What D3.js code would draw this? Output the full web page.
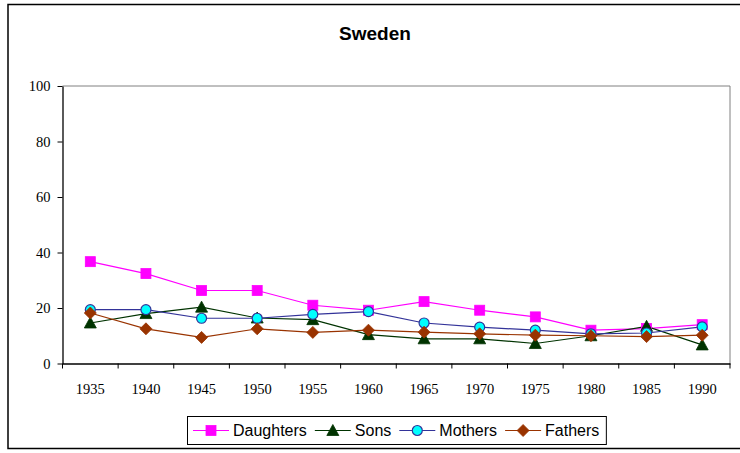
<!DOCTYPE html>
<html>
<head>
<meta charset="utf-8">
<script src="https://cdn.jsdelivr.net/npm/d3@7"></script>
<style>
  body { margin: 0; background: #fff; }
  svg { display: block; }
</style>
</head>
<body>
<div id="chart"></div>
<script>
// data
let years = ["1935", "1940", "1945", "1950", "1955", "1960", "1965", "1970", "1975", "1980", "1985", "1990"];
let daughters = [36.7, 32.4, 26.3, 26.3, 21, 19.2, 22.3, 19.2, 16.8, 12, 12.6, 14];
let sons = [14.6, 18, 20.3, 16.4, 15.8, 10.4, 8.9, 8.9, 7.2, 10, 13.4, 6.7];
let mothers = [19.4, 19.4, 16.3, 16.3, 17.7, 18.7, 14.6, 13.1, 12, 10.7, 11, 13.2];
let fathers = [18.2, 12.5, 9.4, 12.5, 11.2, 12, 11.3, 10.7, 10.2, 10, 9.7, 10.2];
let yTicks = [0, 20, 40, 60, 80, 100];

let series = [
    {name: "Daughters", values: daughters, line: "#ff00ff", fill: "#ff00ff", stroke: "#ff00ff", shape: "square"},
    {name: "Sons", values: sons, line: "#003300", fill: "#003300", stroke: "#003300", shape: "triangle"},
    {name: "Mothers", values: mothers, line: "#333399", fill: "#00ffff", stroke: "#333399", shape: "circle"},
    {name: "Fathers", values: fathers, line: "#993300", fill: "#993300", stroke: "#993300", shape: "diamond"}
];

let W = 740, H = 453;
let plot = {left: 62.5, right: 730, top: 86, bottom: 363.5};

let svg = d3.select("#chart").append("svg")
    .attr("width", W)
    .attr("height", H);

// outer frame (cut off at the right like the picture)
svg.append("rect")
    .attr("x", 8).attr("y", 4.5)
    .attr("width", 745).attr("height", 444)
    .attr("fill", "none")
    .attr("stroke", "#000")
    .attr("stroke-width", 1.5);

// title
svg.append("text")
    .attr("x", 375).attr("y", 40)
    .attr("text-anchor", "middle")
    .style("font-family", "Liberation Sans, Arial, sans-serif")
    .style("font-weight", "bold")
    .style("font-size", "19px")
    .text("Sweden");

// scales
let x = d3.scaleBand().domain(years).range([plot.left, plot.right]);
let y = d3.scaleLinear().domain([0, 100]).range([plot.bottom, plot.top]);

// plot area border (grey top and right)
svg.append("path")
    .attr("d", `M${plot.left},${plot.top}H${plot.right}V${plot.bottom}`)
    .attr("fill", "none")
    .attr("stroke", "#808080")
    .attr("stroke-width", 1);

// y axis
let yAxis = svg.append("g")
    .attr("transform", `translate(${plot.left},0)`)
    .call(d3.axisLeft(y).tickValues(yTicks).tickSize(5).tickSizeOuter(0).tickPadding(7));

// x axis, ticks between categories
let xAxis = svg.append("g")
    .attr("transform", `translate(0,${plot.bottom})`)
    .call(d3.axisBottom(x).tickSize(0).tickSizeOuter(0).tickPadding(20));

xAxis.selectAll(".sep")
    .data(d3.range(years.length + 1))
    .enter()
    .append("line")
    .attr("x1", i => plot.left + i * x.step())
    .attr("x2", i => plot.left + i * x.step())
    .attr("y1", 0).attr("y2", 5)
    .attr("stroke", "#000");

[yAxis, xAxis].forEach(a => {
    a.select(".domain").attr("stroke", "#000").attr("stroke-width", 1.3);
    a.selectAll(".tick line").attr("stroke", "#000");
    a.selectAll("text")
        .style("font-family", "Liberation Serif, Times New Roman, serif")
        .style("font-size", "14.5px")
        .attr("fill", "#000");
});

// marker shapes
function marker(g, s) {
    if (s.shape == "square") {
        g.append("rect").attr("x", -5).attr("y", -5).attr("width", 10).attr("height", 10);
    } else if (s.shape == "triangle") {
        g.append("path").attr("d", "M0,-6L6,5H-6Z");
    } else if (s.shape == "circle") {
        g.append("circle").attr("r", 5);
    } else {
        g.append("path").attr("d", "M0,-6L6,0L0,6L-6,0Z");
    }
    g.selectAll("*")
        .attr("fill", s.fill)
        .attr("stroke", s.stroke)
        .attr("stroke-width", s.shape == "circle" ? 1.2 : 0.8);
}

let line = d3.line()
    .x((d, i) => x(years[i]) + x.bandwidth() / 2)
    .y(d => y(d));

// draw series
series.forEach(s => {
    svg.append("path")
        .datum(s.values)
        .attr("d", line)
        .attr("fill", "none")
        .attr("stroke", s.line)
        .attr("stroke-width", 1.2);
});
series.forEach(s => {
    s.values.forEach((v, i) => {
        let g = svg.append("g")
            .attr("transform", `translate(${x(years[i]) + x.bandwidth() / 2},${y(v)})`);
        marker(g, s);
    });
});

// LEGEND //
let legend = svg.append("g");
let legendBox = legend.append("rect")
    .attr("y", 416.5).attr("height", 28)
    .attr("fill", "#fff")
    .attr("stroke", "#000")
    .attr("stroke-width", 1);

let lx = 193, ly = 430.5;
series.forEach(s => {
    legend.append("line")
        .attr("x1", lx).attr("x2", lx + 36)
        .attr("y1", ly).attr("y2", ly)
        .attr("stroke", s.line).attr("stroke-width", 1.2);
    marker(legend.append("g").attr("transform", `translate(${lx + 18},${ly})`), s);
    let t = legend.append("text")
        .attr("x", lx + 40).attr("y", ly + 5.5)
        .style("font-family", "Liberation Sans, Arial, sans-serif")
        .style("font-size", "16px")
        .text(s.name);
    lx += 40 + t.node().getComputedTextLength() + 8;
});
legendBox.attr("x", 187.5).attr("width", lx - 187.5 - 1);
</script>
</body>
</html>
